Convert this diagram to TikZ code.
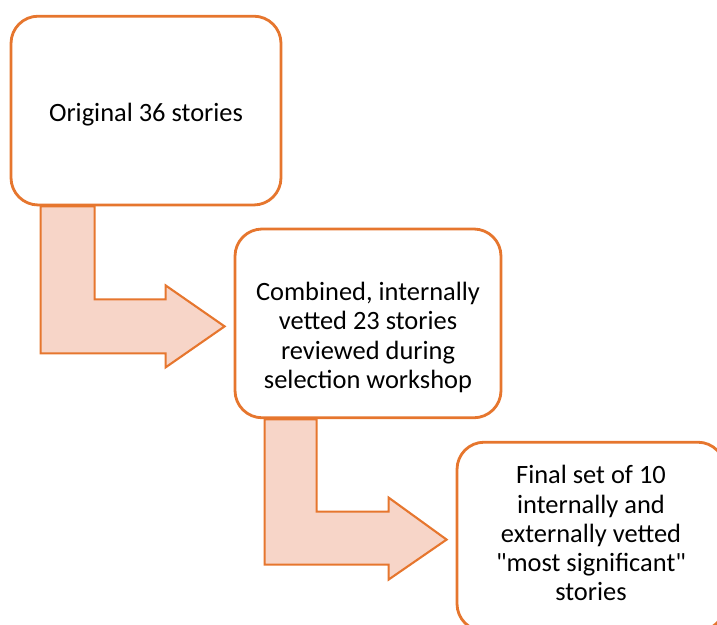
\documentclass[tikz,border=0pt]{standalone}
\usepackage{fontspec}
\setmainfont{Carlito}
\usepackage{xcolor}
\usepackage{tikz}
\usetikzlibrary{calc, backgrounds}

\definecolor{storyorange}{RGB}{230,118,46}
\definecolor{storypeach}{RGB}{247,213,200}

\begin{document}
\begin{tikzpicture}[
    story/.style={rectangle, draw=storyorange, fill=white, line width=2pt, rounded corners=0.68cm, align=center, inner sep=4pt, font=\fontsize{18.8}{20.8}\selectfont, minimum width=6.7cm, minimum height=4.72cm},
    bentarr/.style={draw=storyorange, fill=storypeach, line width=1.5pt, line join=miter}
]
    % Khung trang (717 x 625)
    \useasboundingbox (0,0) rectangle (17.925,15.625);
    \clip (0,0) rectangle (17.925,15.625);

    % Ba hop cau chuyen
    \node[story, minimum width=6.75cm] (original) at (3.65, 12.86) {\raisebox{-0.1cm}[\height][\depth]{Original 36 stories}};

    \node[story, minimum width=6.65cm] (combined) at (9.2, 7.54) {\raisebox{-0.38cm}[\height][\depth]{\begin{tabular}{@{}c@{}}Combined, internally\\vetted 23 stories\\reviewed during\\selection workshop\end{tabular}}};

    \node[story] (final) at (14.775, 2.21) {\begin{tabular}{@{}c@{}}Final set of 10\\internally and\\externally vetted\\\textquotedbl most significant\textquotedbl\\stories\end{tabular}};

    % Mui ten gap khuc giua cac hop
    \begin{scope}[on background layer]
        \draw[bentarr] ($(original.south west)+(0.775,0)$) -- ($(original.south west)+(2.125,0)$)
            |- ($(combined.west)+(-1.7,0.6)$) -- ($(combined.west)+(-1.7,0.95)$)
            -- ($(combined.west)+(-0.225,-0.075)$) -- ($(combined.west)+(-1.7,-1.1)$)
            -- ($(combined.west)+(-1.7,-0.75)$) -| ($(original.south west)+(0.775,0)$) -- cycle;

        \draw[bentarr] ($(combined.south west)+(0.775,0)$) -- ($(combined.south west)+(2.075,0)$)
            |- ($(final.west)+(-1.675,0.625)$) -- ($(final.west)+(-1.675,0.975)$)
            -- ($(final.west)+(-0.225,-0.075)$) -- ($(final.west)+(-1.675,-1.075)$)
            -- ($(final.west)+(-1.675,-0.7)$) -| ($(combined.south west)+(0.775,0)$) -- cycle;
    \end{scope}
\end{tikzpicture}
\end{document}
